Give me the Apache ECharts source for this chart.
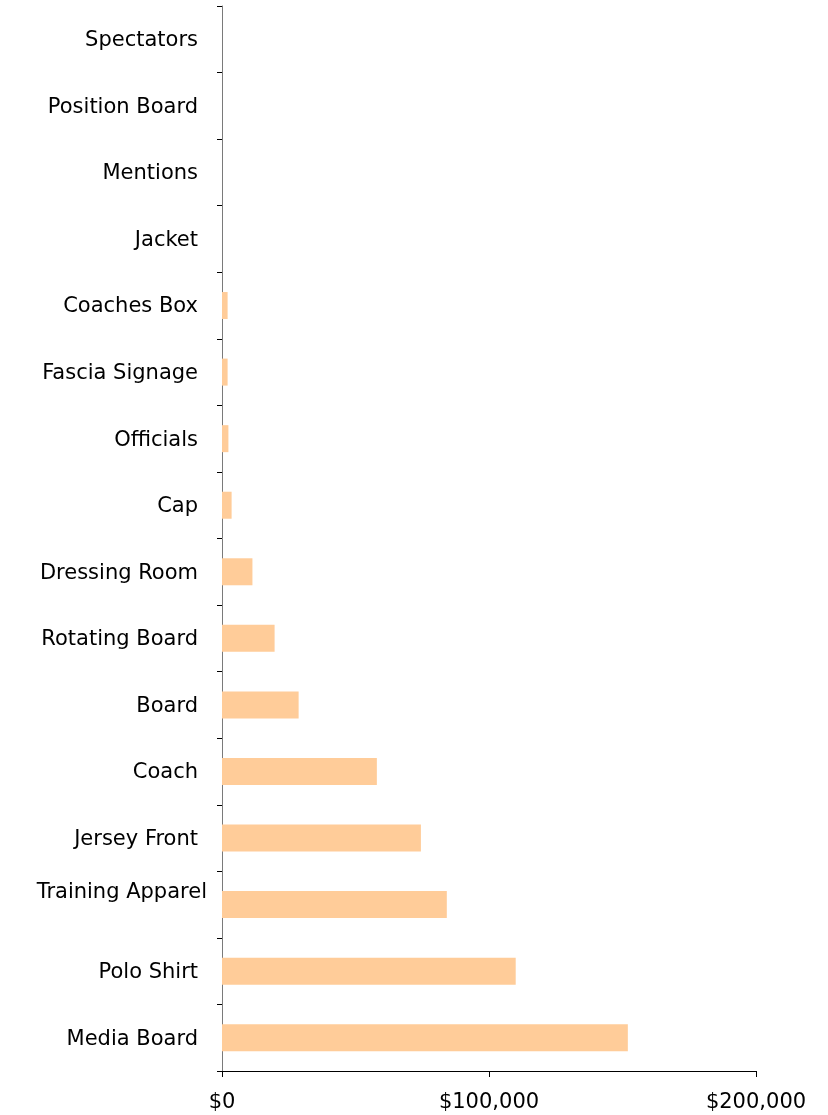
<!DOCTYPE html>
<html>
<head>
<meta charset="utf-8">
<style>
  html, body { margin: 0; padding: 0; background: #ffffff; }
  #chart { width: 828px; height: 1115px; }
</style>
<script src="https://cdn.jsdelivr.net/npm/echarts@6/dist/echarts.min.js"></script>
</head>
<body>
<div id="chart"></div>
<script>
// Sponsorship inventory values, listed from the bottom row upwards
const categories = [
  'Media Board', 'Polo Shirt', 'Training Apparel', 'Jersey Front', 'Coach',
  'Board', 'Rotating Board', 'Dressing Room', 'Cap', 'Officials',
  'Fascia Signage', 'Coaches Box', 'Jacket', 'Mentions', 'Position Board', 'Spectators'
];
const values = [
  152000, 110000, 84200, 74500, 58000,
  28700, 19700, 11400, 3600, 2400,
  2100, 2100, 0, 0, 0, 0
];
const xTicks = [0, 100000, 200000];

const FONT = '"DejaVu Sans", Verdana, sans-serif';
const FS = 21;

const chart = echarts.init(document.getElementById('chart'));
chart.setOption({
  animation: false,
  backgroundColor: '#ffffff',
  grid: { left: 222, right: 72, top: 6, bottom: 44, containLabel: false },
  xAxis: {
    type: 'value',
    min: xTicks[0],
    max: xTicks[xTicks.length - 1],
    interval: xTicks[1] - xTicks[0],
    splitLine: { show: false },
    axisLine: { show: true, lineStyle: { color: '#000000', width: 1 } },
    axisTick: { show: true, length: 6, lineStyle: { color: '#000000' } },
    axisLabel: {
      margin: 21,
      fontFamily: FONT,
      fontSize: FS,
      color: '#000000',
      formatter: v => '$' + v.toLocaleString('en-US')
    }
  },
  yAxis: {
    type: 'category',
    data: categories,
    boundaryGap: true,
    axisLine: { show: true, lineStyle: { color: '#7a7a7a', width: 1 } },
    axisTick: { show: true, length: 5, alignWithLabel: false, lineStyle: { color: '#000000' } },
    axisLabel: {
      margin: 15,
      interval: 0,
      fontFamily: FONT,
      fontSize: FS,
      color: '#000000',
      formatter: v => v === 'Training Apparel' ? '{w|' + v + '}' : '{n|' + v + '}',
      rich: {
        n: { fontFamily: FONT, fontSize: FS, color: '#000000', padding: [3, 9, 0, 0] },
        w: { fontFamily: FONT, fontSize: FS, color: '#000000', padding: [0, 0, 24, 0] }
      }
    }
  },
  series: [{
    type: 'bar',
    data: values,
    barWidth: 27,
    itemStyle: { color: '#FFCC99' },
    silent: true
  }]
});
</script>
</body>
</html>
